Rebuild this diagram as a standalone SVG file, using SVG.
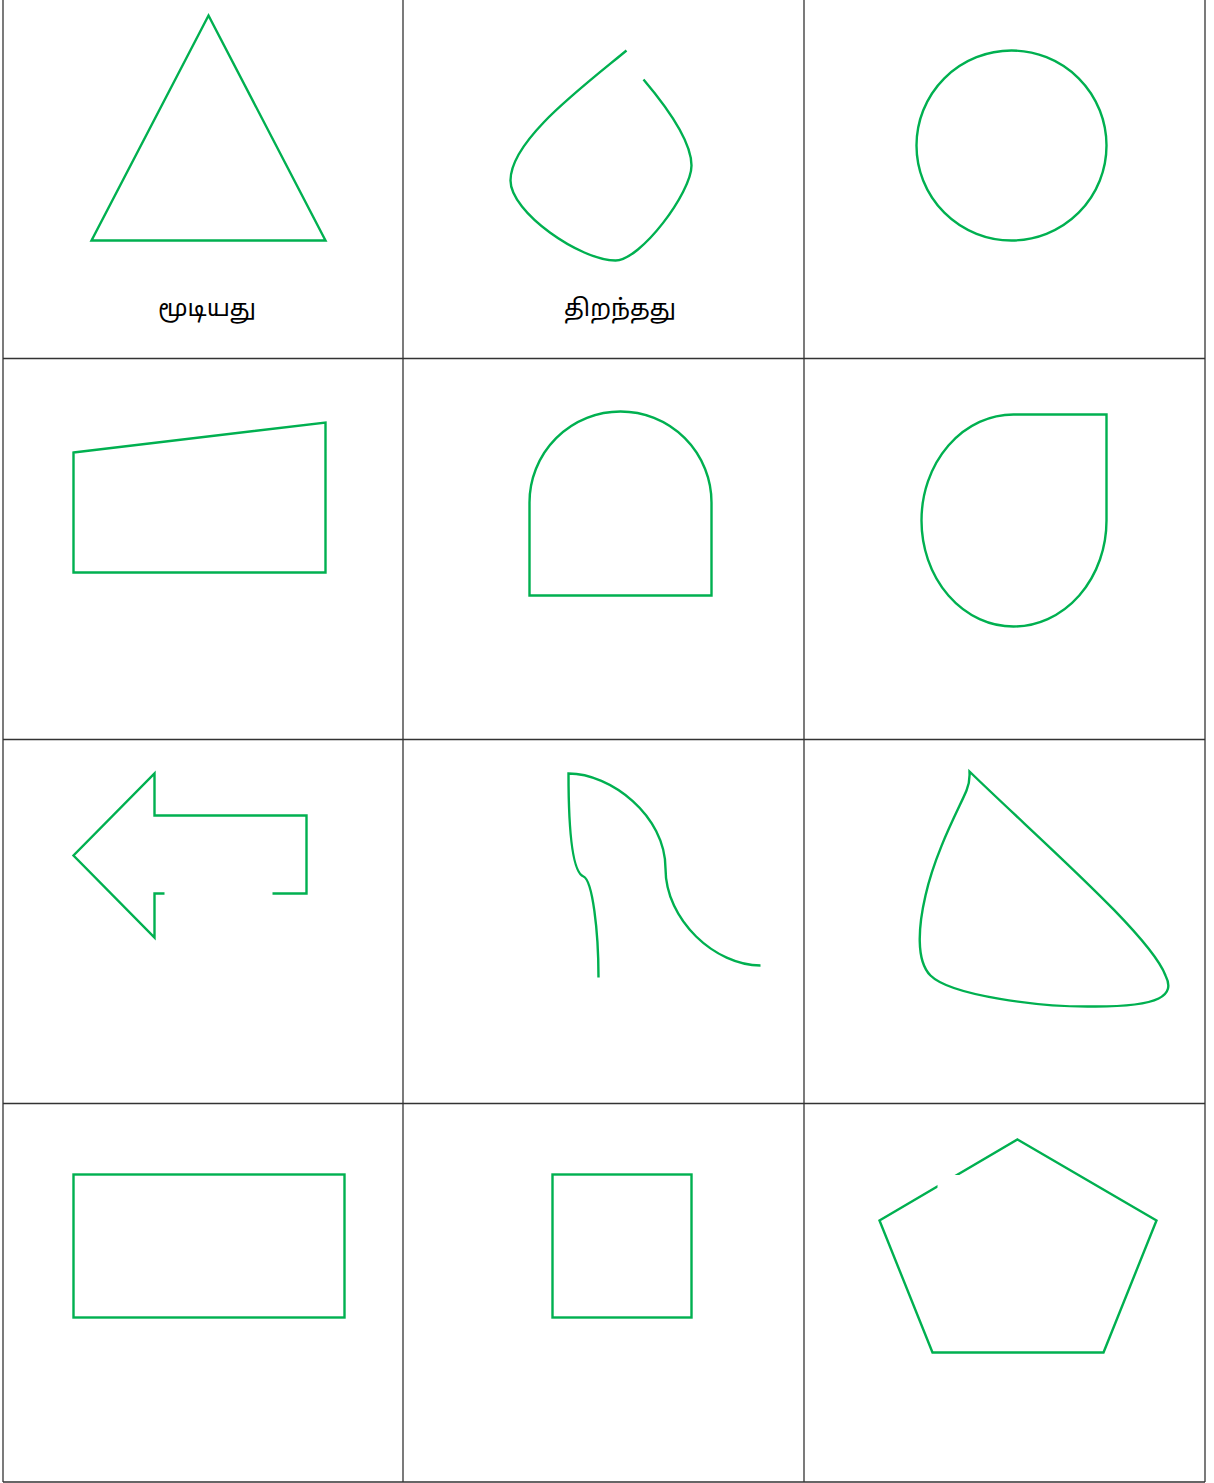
<svg xmlns="http://www.w3.org/2000/svg" width="1214" height="1483" viewBox="0 0 1214 1483">
<style>
.grid{stroke:#333;stroke-width:1.3;fill:none}
.sh{stroke:#00b050;stroke-width:2.4;fill:none;stroke-linejoin:miter}
.lbl{font-family:"Noto Sans","Noto Sans Tamil","Lohit Tamil",sans-serif;font-size:24px;fill:#000;text-anchor:middle}
</style>
<rect width="1214" height="1483" fill="#fff"/>
<g id="grid">
<line class="grid" x1="3" y1="0" x2="3" y2="1482"/>
<line class="grid" x1="403" y1="0" x2="403" y2="1482"/>
<line class="grid" x1="804" y1="0" x2="804" y2="1482"/>
<line class="grid" x1="1205" y1="0" x2="1205" y2="1482"/>
<line class="grid" x1="3" y1="358.5" x2="1205" y2="358.5"/>
<line class="grid" x1="3" y1="739.5" x2="1205" y2="739.5"/>
<line class="grid" x1="3" y1="1103.5" x2="1205" y2="1103.5"/>
<line class="grid" x1="3" y1="1482" x2="1205" y2="1482"/>
</g>
<g transform="translate(0.5,0.5)">
<g id="triangle"><polygon class="sh" points="208,15 325,240 91,240"/></g>
<g id="open-curve"><path class="sh" d="M626,50 C580,88 510,140 510,180 C510,212 580,260 615,260 C640,260 691,192 691,165 C691,140 665,105 643,79"/></g>
<g id="circle"><circle class="sh" cx="1011" cy="145" r="95"/></g>
<g id="quad"><polygon class="sh" points="73,452 325,422 325,572 73,572"/></g>
<g id="arch"><path class="sh" d="M529,595 L529,502 A91,91 0 0 1 711,502 L711,595 Z"/></g>
<g id="teardrop"><path class="sh" d="M1013,414 L1106,414 L1106,520 A93,106 0 0 1 1013,626 A92,106 0 0 1 921,520 A92,106 0 0 1 1013,414 Z"/></g>
<g id="arrow"><path class="sh" d="M272,893 L306,893 L306,815 L154,815 L154,773 L73,855 L154,937 L154,893 L164,893"/></g>
<g id="s-curve"><path class="sh" d="M598,977 C598,930 592,880 583,876 C575,873 568,850 568,773 C610,773 665,815 665,868 C665,920 715,965 760,965"/></g>
<g id="blob"><path class="sh" d="M969,771 C1040,840 1150,935 1165,975 C1175,995 1160,1006 1095,1006 C1040,1007 950,995 930,975 C915,960 918,925 925,895 C935,850 960,805 966,790 C970,780 969,775 969,771 Z"/></g>
<g id="rect"><rect class="sh" x="73" y="1174" width="271" height="143"/></g>
<g id="square"><rect class="sh" x="552" y="1174" width="139" height="143"/></g>
<g id="pentagon"><polygon class="sh" points="1017,1139 1156,1220 1103,1352 932,1352 879,1220"/><rect x="937" y="1174.5" width="23" height="20" fill="#fff"/></g>
</g>
<g id="labels">
<text class="lbl" x="207" y="316">மூடியது</text>
<text class="lbl" x="620" y="316">திறந்தது</text>
</g>
</svg>
